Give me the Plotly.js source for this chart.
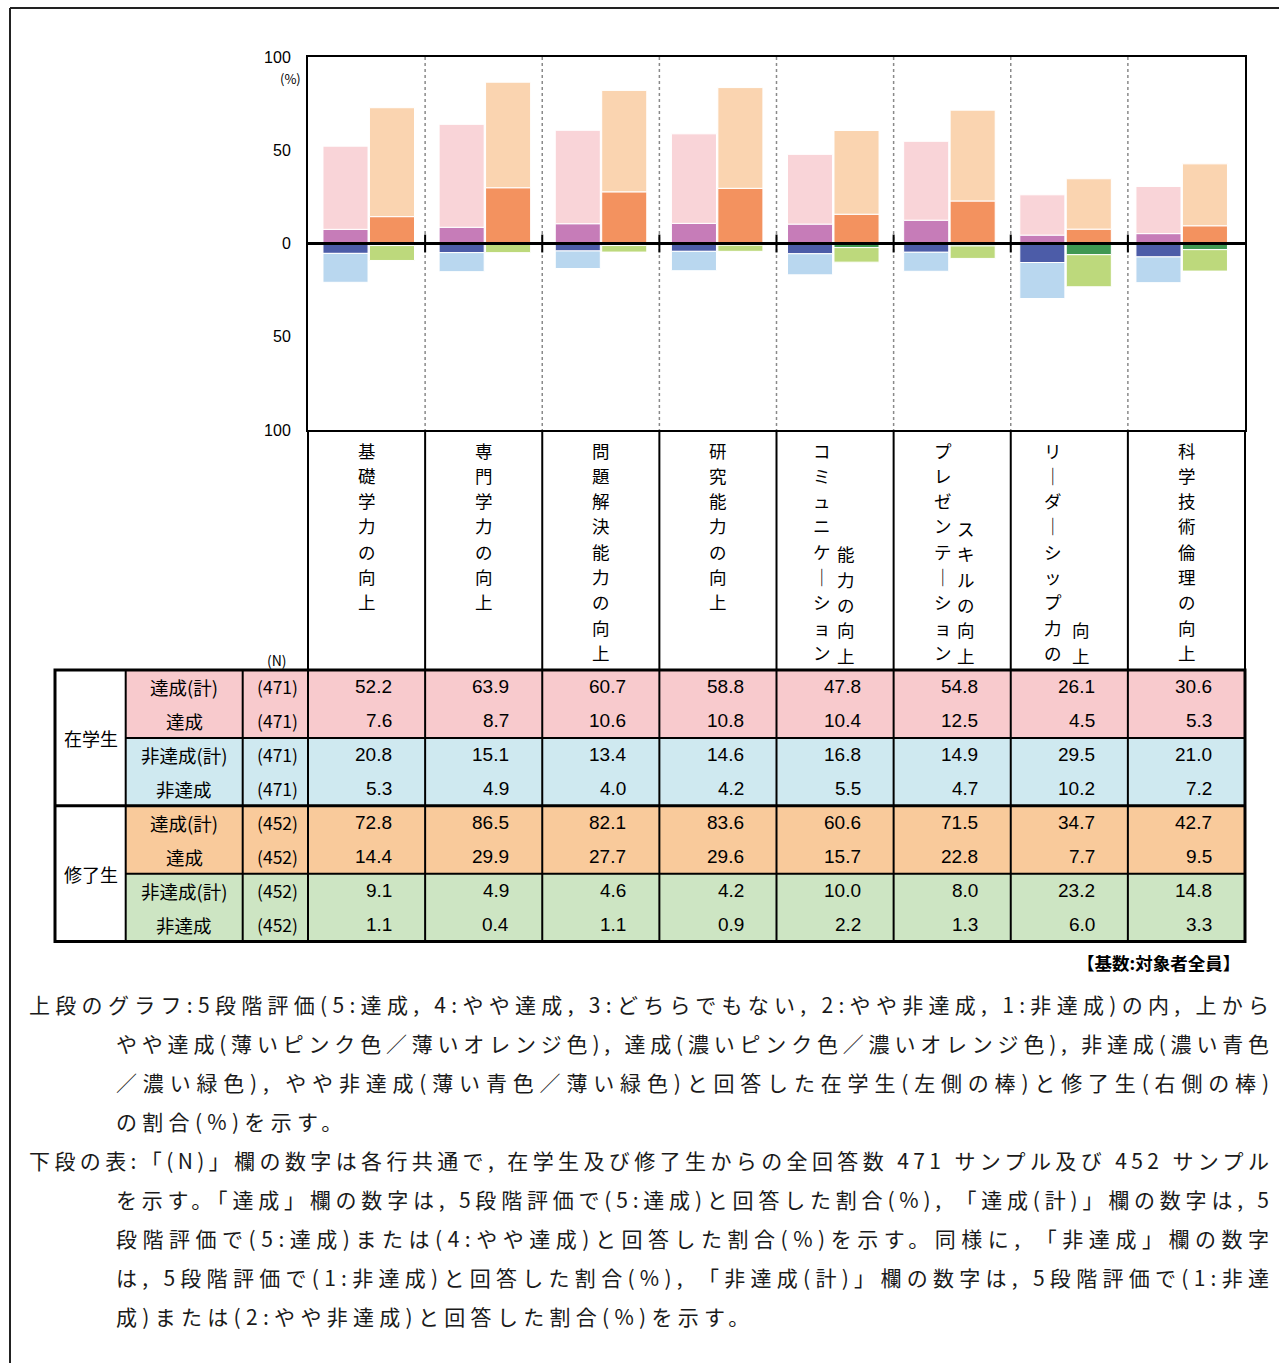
<!DOCTYPE html>
<html><head><meta charset="utf-8">
<script src="https://cdn.plot.ly/plotly-3.0.1.min.js"></script>
<style>html,body{margin:0;padding:0;background:#fff;} #chart{width:1279px;height:1363px;}</style>
</head><body><div id="chart"></div>
<script>
// ---------------- data ----------------
const categories = ['基礎学力の向上','専門学力の向上','問題解決能力の向上','研究能力の向上','コミュニケーション能力の向上','プレゼンテーションスキルの向上','リーダーシップ力の向上','科学技術倫理の向上'];
const labelBreak = [0,0,0,0,9,9,9,0];   // where the vertical label wraps into a second column (0 = one column)
const rowLabels = ['達成(計)','達成','非達成(計)','非達成'];
const groupLabels = ['在学生','修了生'];
const studentN = 471;
const graduateN = 452;
const stuAchTotal = [52.2,63.9,60.7,58.8,47.8,54.8,26.1,30.6];
const stuAch      = [7.6,8.7,10.6,10.8,10.4,12.5,4.5,5.3];
const stuNonTotal = [20.8,15.1,13.4,14.6,16.8,14.9,29.5,21.0];
const stuNon      = [5.3,4.9,4.0,4.2,5.5,4.7,10.2,7.2];
const gradAchTotal = [72.8,86.5,82.1,83.6,60.6,71.5,34.7,42.7];
const gradAch      = [14.4,29.9,27.7,29.6,15.7,22.8,7.7,9.5];
const gradNonTotal = [9.1,4.9,4.6,4.2,10.0,8.0,23.2,14.8];
const gradNon      = [1.1,0.4,1.1,0.9,2.2,1.3,6.0,3.3];
const yTickVals = [100,50,0,-50,-100];
const yTickText = ['100','50','0','50','100'];
const footnote = '【基数:対象者全員】';
const para1 = [
 '上段のグラフ:5段階評価(5:達成, 4:やや達成, 3:どちらでもない, 2:やや非達成, 1:非達成)の内, 上から',
 'やや達成(薄いピンク色／薄いオレンジ色), 達成(濃いピンク色／濃いオレンジ色), 非達成(濃い青色',
 '／濃い緑色), やや非達成(薄い青色／薄い緑色)と回答した在学生(左側の棒)と修了生(右側の棒)',
 'の割合(%)を示す。'
];
const para2 = [
 '下段の表:「(N)」欄の数字は各行共通で, 在学生及び修了生からの全回答数 471 サンプル及び 452 サンプル',
 'を示す。「達成」欄の数字は, 5段階評価で(5:達成)と回答した割合(%), 「達成(計)」欄の数字は, 5',
 '段階評価で(5:達成)または(4:やや達成)と回答した割合(%)を示す。同様に, 「非達成」欄の数字',
 'は, 5段階評価で(1:非達成)と回答した割合(%), 「非達成(計)」欄の数字は, 5段階評価で(1:非達',
 '成)または(2:やや非達成)と回答した割合(%)を示す。'
];

// ---------------- layout helpers ----------------
const W = 1279, H = 1363;
const L = 308, R = 1245, T = 57, B = 430;
const colW = (R - L) / 8;
const px = x => (x - L) / (R - L);
const py = y => (B - y) / (B - T);
const CJK = '"Noto Sans CJK JP", "Noto Sans", sans-serif';
const NUM = '"Liberation Sans Narrow", "Arial Narrow", "Liberation Sans", sans-serif';
const idx = categories.map((c, i) => i);
// label column x-offsets (px) for two-column vertical labels [left, right]
const labelColDx = [[0,0],[0,0],[0,0],[0,0],[-13.5,11],[-9.5,14],[-16.5,12],[0,0]];

const C = {
  stuLight: '#f9d4d8', stuDark: '#c67cb8', stuNonDark: '#4c5ca8', stuNonLight: '#b9d7ef',
  gradLight: '#fad4b0', gradDark: '#f3925f', gradNonDark: '#3f9852', gradNonLight: '#bdd97c',
  tPink: '#f8cacd', tBlue: '#cfe9f0', tOrange: '#f9ca9b', tGreen: '#cde5c3'
};

function barTrace(name, base, vals, color, offset) {
  return {
    type: 'bar', name, x: idx, y: vals, base: base,
    offset: offset, width: 0.388,
    marker: { color, line: { color: '#ffffff', width: 1 } },
    hoverinfo: 'skip', showlegend: false
  };
}
const stuOff = -0.392, gradOff = 0.008;
const diff = (a, b) => a.map((v, i) => v - b[i]);
const neg = a => a.map(v => -v);
const data = [
  barTrace('在学生 達成', idx.map(() => 0), stuAch, C.stuDark, stuOff),
  barTrace('在学生 やや達成', stuAch, diff(stuAchTotal, stuAch), C.stuLight, stuOff),
  barTrace('在学生 非達成', idx.map(() => 0), neg(stuNon), C.stuNonDark, stuOff),
  barTrace('在学生 やや非達成', neg(stuNon), neg(diff(stuNonTotal, stuNon)), C.stuNonLight, stuOff),
  barTrace('修了生 達成', idx.map(() => 0), gradAch, C.gradDark, gradOff),
  barTrace('修了生 やや達成', gradAch, diff(gradAchTotal, gradAch), C.gradLight, gradOff),
  barTrace('修了生 非達成', idx.map(() => 0), neg(gradNon), C.gradNonDark, gradOff),
  barTrace('修了生 やや非達成', neg(gradNon), neg(diff(gradNonTotal, gradNon)), C.gradNonLight, gradOff)
];

// ---------------- shapes ----------------
const shapes = [];
function line(x0, y0, x1, y1, w, color, extra) {
  shapes.push(Object.assign({ type: 'line', xref: 'paper', yref: 'paper',
    x0: px(x0), y0: py(y0), x1: px(x1), y1: py(y1),
    line: { color: color || '#000', width: w } }, extra || {}));
}
function rect(x0, y0, x1, y1, fill) {
  shapes.push({ type: 'rect', xref: 'paper', yref: 'paper', x0: px(x0), y0: py(y0), x1: px(x1), y1: py(y1),
    fillcolor: fill, line: { width: 0 }, layer: 'above' });
}
// page frame
line(10, 8, 10, H + 5, 2, '#222');
line(10, 8, W + 5, 8, 2, '#222');
// dotted separators in plot
for (let k = 1; k < 8; k++) line(L + k * colW, T, L + k * colW, B, 1.5, '#8a8a8a', { layer: 'below', line: { color: '#8a8a8a', width: 1.5, dash: 'dot' } });
// zero line (above bars)
shapes.push({ type: 'line', xref: 'paper', yref: 'y', x0: 0, x1: 1, y0: 0, y1: 0, line: { color: '#000', width: 3 }, layer: 'above' });
// ticks on zero line
for (let k = 1; k < 8; k++) shapes.push({ type: 'line', xref: 'paper', yref: 'y', x0: px(L + k * colW), x1: px(L + k * colW), y0: -4.8, y1: 4.8, line: { color: '#000', width: 2 }, layer: 'above' });
// category label boxes
for (let k = 0; k <= 8; k++) line(L + k * colW, B, L + k * colW, 670, 2);
// table fills
const tTop = 670, rowH = 33.95, tBot = tTop + 8 * rowH;
const blockFill = [C.tPink, C.tBlue, C.tOrange, C.tGreen];
for (let b = 0; b < 4; b++) rect(125.7, tTop + b * 2 * rowH, R, tTop + (b + 1) * 2 * rowH, blockFill[b]);
// table lines
line(125.7, tTop + 2 * rowH, R, tTop + 2 * rowH, 2);
line(125.7, tTop + 6 * rowH, R, tTop + 6 * rowH, 2);
line(55, tTop + 4 * rowH, R, tTop + 4 * rowH, 3);
line(125.7, tTop, 125.7, tBot, 2);
line(242.7, tTop, 242.7, tBot, 2);
for (let k = 0; k < 8; k++) line(L + k * colW, tTop, L + k * colW, tBot, 2);
shapes.push({ type: 'rect', xref: 'paper', yref: 'paper', x0: px(55), y0: py(tTop), x1: px(R), y1: py(tBot), line: { color: '#000', width: 3 }, fillcolor: 'rgba(0,0,0,0)' });

// ---------------- annotations ----------------
const ann = [];
function A(o, font) {
  ann.push(Object.assign({ showarrow: false, xref: 'paper', yref: 'paper', borderpad: 0 }, o,
    { font: Object.assign({ family: CJK, size: 18, color: '#000' }, font || {}) }));
  return ann.length - 1;
}
A({ x: px(290), y: py(78), text: '(%)', xanchor: 'center', yanchor: 'middle' }, { family: CJK, size: 13 });
A({ x: px(277), y: py(660), text: '(N)', xanchor: 'center', yanchor: 'middle' }, { size: 14 });
// vertical category labels: one character per line, stacked
const CH_STEP = 25.3, CH_TOP = 450, CH_BOT = 655;
function vcol(str, cx, fromBottom) {
  const chars = str.split('').map(c => (c === 'ー' ? '｜' : c));
  const start = fromBottom ? CH_BOT - (chars.length - 1) * CH_STEP : CH_TOP;
  chars.forEach((c, k) => {
    A({ x: px(cx), y: py(start + k * CH_STEP), text: c, xanchor: 'center', yanchor: 'middle' }, { size: 17.5 });
  });
}
categories.forEach((c, i) => {
  const cx = L + (i + 0.5) * colW;
  if (labelBreak[i] === 0) {
    vcol(c, cx + 0.5, false);
  } else {
    vcol(c.slice(0, labelBreak[i]), cx + labelColDx[i][0], false);
    vcol(c.slice(labelBreak[i]), cx + labelColDx[i][1], true);
  }
});
// table text
const rows = [stuAchTotal, stuAch, stuNonTotal, stuNon, gradAchTotal, gradAch, gradNonTotal, gradNon];
rows.forEach((vals, r) => {
  const cy = tTop + (r + 0.5) * rowH;
  A({ x: px(184), y: py(cy), text: rowLabels[r % 4], xanchor: 'center', yanchor: 'middle' }, { size: 18.5 });
  A({ x: px(277), y: py(cy), text: '(' + (r < 4 ? studentN : graduateN) + ')', xanchor: 'center', yanchor: 'middle' }, { size: 17.5 });
  vals.forEach((v, i) => {
    A({ x: px(L + (i + 1) * colW - 32), y: py(cy), text: v.toFixed(1), xanchor: 'right', yanchor: 'middle' }, { family: NUM, size: 19 });
  });
});
A({ x: px(91), y: py(tTop + 2 * rowH), text: groupLabels[0], xanchor: 'center', yanchor: 'middle' }, { size: 18 });
A({ x: px(91), y: py(tTop + 6 * rowH), text: groupLabels[1], xanchor: 'center', yanchor: 'middle' }, { size: 18 });
A({ x: px(1241), y: py(962), text: '<b>' + footnote + '</b>', xanchor: 'right', yanchor: 'middle' }, { size: 17.5 });
// paragraphs
const justify = [];
const P_FONT = { size: 21, color: '#1a1a1a' };
function para(lines, y0) {
  lines.forEach((t, j) => {
    const x = j === 0 ? 28 : 115;
    const id = A({ x: px(x), y: py(y0 + j * 39), text: t, xanchor: 'left', yanchor: 'middle', align: 'left' }, P_FONT);
    justify.push({ id, x, last: j === lines.length - 1 });
  });
}
para(para1, 1004);
para(para2, 1160);

const layout = {
  width: W, height: H,
  margin: { l: L, r: W - R, t: T, b: H - B, pad: 0 },
  paper_bgcolor: '#ffffff', plot_bgcolor: '#ffffff',
  barmode: 'overlay',
  showlegend: false,
  // bar groups are spaced ~116.1px apart, a touch tighter than the table columns
  xaxis: { range: [-0.521, 7.547], showticklabels: false, showgrid: false, zeroline: false,
    showline: true, mirror: true, linecolor: '#000', linewidth: 2, ticks: '', fixedrange: true },
  yaxis: { range: [-100, 100], tickvals: yTickVals, ticktext: yTickText, showgrid: false, zeroline: false,
    showline: true, mirror: true, linecolor: '#000', linewidth: 2, ticks: '', ticklabelstandoff: 12,
    tickfont: { family: '"Liberation Sans", Arial, sans-serif', size: 16, color: '#000' }, fixedrange: true },
  shapes, annotations: ann
};

Plotly.newPlot('chart', data, layout, { staticPlot: true, displayModeBar: false }).then(gd => {
  justify.forEach(j => {
    const t = gd.querySelector('.annotation[data-index="' + j.id + '"] text.annotation-text');
    if (!t) return;
    const n = t.textContent.length;
    const w = t.getComputedTextLength();
    let s;
    if (j.last) s = 5.3;
    else s = (1268 - j.x - w) / (n - 1);
    t.style.letterSpacing = s + 'px';
  });
});
</script>
</body></html>
